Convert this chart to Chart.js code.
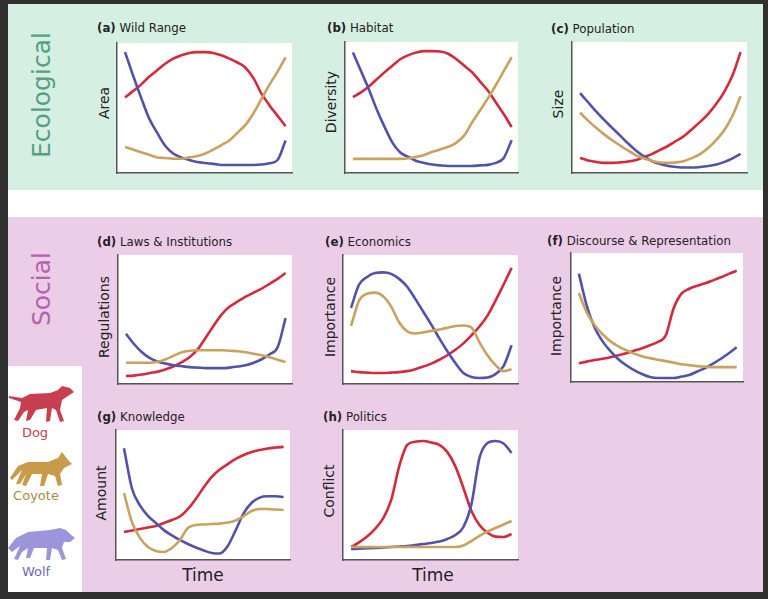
<!DOCTYPE html>
<html>
<head>
<meta charset="utf-8">
<script src="https://cdn.jsdelivr.net/npm/chart.js@4.4.1/dist/chart.umd.min.js"></script>
<style>
  html, body { margin:0; padding:0; }
  body { width:768px; height:599px; background:#303030; position:relative; overflow:hidden; font-family:"DejaVu Sans", Verdana, sans-serif; }
  .band { position:absolute; }
  .txt { position:absolute; white-space:nowrap; color:#222; }
  .ttl { font-size:11.8px; transform:translateY(-50%); }
  .ttl b { font-weight:bold; }
  .ylab { font-size:14px; transform:translate(-50%,-50%) rotate(-90deg); }
  .xlab { font-size:17px; transform:translate(-50%,-50%); }
  .sect { font-size:25px; font-weight:normal; transform:translate(-50%,-50%) rotate(-90deg); }
  .leg { font-size:13px; transform:translate(-50%,-50%); }
  canvas { position:absolute; }
</style>
</head>
<body>
<div class="band" style="left:8px;top:4px;width:755px;height:186px;background:#d6efe3;"></div>
<div class="band" style="left:8px;top:190px;width:755px;height:27px;background:#ffffff;"></div>
<div class="band" style="left:8px;top:217px;width:755px;height:375px;background:#eccde8;"></div>
<div class="band" style="left:8px;top:366px;width:74px;height:226px;background:#ffffff;"></div>

<div class="txt sect" style="left:41px;top:95px;color:#55a083;">Ecological</div>
<div class="txt sect" style="left:41px;top:289px;color:#b463ad;">Social</div>

<svg style="position:absolute;left:0;top:0;" width="768" height="599">
  <polygon fill="#c8404f" points="9,396 22,398 30,394 50,393 58,390 62,386 70,388 74,392 68,396 62,400 60,410 64,421 60,422 56,410 52,408 50,421 46,422 47,408 36,410 30,420 26,421 28,410 24,412 18,421 14,420 20,408 21,402 9,398"/>
  <polygon fill="#c99a4a" points="10,478 18,466 28,462 48,462 58,458 62,452 65,456 68,460 72,464 64,468 60,474 62,485 58,486 55,476 48,474 44,486 40,486 42,474 32,474 26,486 22,485 26,474 20,484 16,484 22,470 12,480"/>
  <polygon fill="#9b96dc" points="8,548 16,538 28,532 50,530 60,528 66,530 70,534 75,538 70,542 64,542 62,548 66,559 62,560 58,550 52,548 50,560 46,560 47,548 34,548 30,558 26,558 28,548 22,552 18,560 14,559 20,546 12,552"/>
</svg>
<div class="txt leg" style="left:35px;top:432px;color:#c8404f;">Dog</div>
<div class="txt leg" style="left:36px;top:495px;color:#a88c4c;">Coyote</div>
<div class="txt leg" style="left:36px;top:571px;color:#6b6bb5;">Wolf</div>

<script>
// ---------- DATA (normalized: time 0-100, level 0-100) ----------
const timeGrid = [0,5,10,15,20,25,30,35,40,45,50,55,60,65,70,75,80,85,90,95,100];

const wildRangeDog    = [58,63,68,74,79,84,88,90.5,92.3,93,93,92.3,90.5,88,85,81,73,61,52,44,36];
const wildRangeCoyote = [20,18,16,14,12,11.5,11,11,12,13,15,18,21.5,25,31,37,46,57,68,78,89];
const wildRangeWolf   = [93,75,58,42,31,21,15,12,10,8.5,7.7,7,6.2,6.2,6.2,6.2,6.2,6.5,7.5,10,25];

const habitatDog    = [58,61.5,66,71.5,77,82,87,90,92,93,93,92.7,91,87,82,77,70,63,54,45,35];
const habitatCoyote = [10.8,10.8,10.8,10.8,10.8,10.8,10.8,11.2,12.3,13.8,16.2,18,20,23,28.5,38.5,47.7,57,67,77.7,88.5];
const habitatWolf   = [92,78,64,48.5,35,23,15.4,12.3,9.2,7.7,6.5,5.8,5.4,5.4,5.4,5.4,5.8,6.2,7.7,11.5,25];

const populationDog    = [11.5,9.6,8.5,7.7,7.7,8.1,8.8,10,12.3,14.6,17.7,20.8,24.6,28.5,33.8,39.2,45.4,53,62.3,74.6,92.3];
const populationCoyote = [46,40,34.5,29.5,25,21,17,13.5,11,9.2,8,7.7,8.1,9.2,11.5,14.6,19.2,25.4,33,43.8,58.5];
const populationWolf   = [61,54,47,40.5,34.5,28.5,22.5,17,12.5,9,6.8,5.4,4.6,4.2,4.2,4.6,5.4,6.5,8.5,11.2,14.6];

const lawsDog    = [6.2,6.5,7.3,8.5,9.6,11.5,13.8,17,21,27,36,45.4,54,60,64,67.7,70.8,74,77.7,81.5,86];
const lawsCoyote = [16.5,16.5,16.5,16.5,17.3,19.2,22,24.6,25.8,26.2,26.2,26.2,26.2,25.8,25.4,24.6,23.5,22.3,20.8,18.8,17];
const lawsWolf   = [39,31,24.6,20,17.3,15.8,14.6,13.8,13.1,12.7,12.3,12.3,12.3,12.7,13.5,14.6,16.5,19.2,23,28.5,51];

const economicsDog    = [10,9.2,8.8,8.5,8.5,8.8,9.2,10,11.5,13.5,15.8,18.8,22.3,26.5,31.5,37.7,44.6,53,64.6,77,90];
const economicsCoyote = [45,64.6,70,70.8,68,60,47.7,40.8,39.2,40,41.2,42.3,43.5,45,45.4,43.8,32.3,22.3,14.6,10,11.5];
const economicsWolf   = [59,77,83,86,86.5,85.4,81.5,75.4,66,56,46,35.4,25.4,16.2,8.5,5.4,4.6,5,7.7,13.8,30];

const discourseDog    = [14.6,15.8,17,18,19.2,20.8,22.3,24.2,26.2,28.5,31,36,57,68.5,72.3,74.6,76.5,78.8,81.2,83.8,86.2];
const discourseCoyote = [69,54,44,37,31.5,27.7,24.6,22,20,18.5,17.3,16.2,15,13.8,13.1,12.3,11.9,11.5,11.5,11.5,11.5];
const discourseWolf   = [84,59,42,31.5,24,17.7,13,9.2,6.2,3.8,3.1,3.1,3.1,4.2,5.4,8.1,10.8,14.2,18,22.3,27];

const knowledgeDog    = [21.5,22.7,23.8,25,26.2,28.5,30.8,33.5,39.2,47,56,64,69.6,73.8,77.7,80.8,83,84.6,85.8,86.5,87];
const knowledgeCoyote = [51.5,29,17,10,7,6.2,9.2,15.4,24.6,27,27.3,27.7,28,28.8,30.4,33.8,37.7,39.2,39.2,38.8,38.5];
const knowledgeWolf   = [86,55,42,34,28.5,23,19,15.4,12.3,9.6,7.3,5.4,5,10.8,23,36,44,48,49,49,48.5];

const politicsDog    = [10,13.5,18,24,32,46,72,88.5,91,91.5,90.4,88.5,83,72,55.4,37.7,27,21,18,17.7,20];
const politicsCoyote = [10,10,10,10,10,10,10,10,10,10,10,10,10,10,11.2,14.6,18.5,22,24.6,27.3,30];
const politicsWolf   = [8.5,8.7,9,9.2,9.6,10,10.4,10.8,11.5,12.3,13.1,14.2,16.2,19.2,25.4,43,78.5,90,91.5,89.6,82.3];

const panelTags   = ["(a)","(b)","(c)","(d)","(e)","(f)","(g)","(h)"];
const panelNames  = ["Wild Range","Habitat","Population","Laws & Institutions","Economics","Discourse & Representation","Knowledge","Politics"];
const yAxisTitles = ["Area","Diversity","Size","Regulations","Importance","Importance","Amount","Conflict"];
const xAxisTitle  = "Time";

const dogSeries    = [wildRangeDog, habitatDog, populationDog, lawsDog, economicsDog, discourseDog, knowledgeDog, politicsDog];
const coyoteSeries = [wildRangeCoyote, habitatCoyote, populationCoyote, lawsCoyote, economicsCoyote, discourseCoyote, knowledgeCoyote, politicsCoyote];
const wolfSeries   = [wildRangeWolf, habitatWolf, populationWolf, lawsWolf, economicsWolf, discourseWolf, knowledgeWolf, politicsWolf];

// ---------- LAYOUT (pixels) ----------
const layout = [
  {box:[117,43,292,173], t:[97,28],  y:[104,103], time:null},
  {box:[345,42,518,173], t:[327,28], y:[331,102], time:null},
  {box:[572,42,747,173], t:[551,29], y:[558,104], time:null},
  {box:[118,255,292,384], t:[97,242], y:[104,317], time:null},
  {box:[343,255,518,384], t:[325,242], y:[330,317], time:null},
  {box:[571,253,743,382], t:[547,241], y:[556,316], time:null},
  {box:[116,430,290,560], t:[97,417], y:[101,493], time:[203,575]},
  {box:[343,430,518,560], t:[323,417], y:[329,491], time:[433,575]}
];

const COLORS = { dog:'#d42a3b', coyote:'#c9a25f', wolf:'#5253a8' };
const PAD = 3;

const whiteArea = {
  id:'whiteArea',
  beforeDraw(chart){
    const {ctx, chartArea:a} = chart;
    ctx.save(); ctx.fillStyle='#ffffff';
    ctx.fillRect(a.left, a.top, a.right-a.left, a.bottom-a.top);
    ctx.restore();
  }
};

function addText(cls, x, y, html){
  const d = document.createElement('div');
  d.className = 'txt ' + cls;
  d.style.left = x + 'px'; d.style.top = y + 'px';
  d.innerHTML = html;
  document.body.appendChild(d);
}

layout.forEach((L, i) => {
  const [l,t,r,b] = L.box;
  const cv = document.createElement('canvas');
  const w = r - l + 2*PAD, h = b - t + 2*PAD;
  cv.width = w; cv.height = h;
  cv.style.left = (l - PAD) + 'px'; cv.style.top = (t - PAD) + 'px';
  cv.style.width = w + 'px'; cv.style.height = h + 'px';
  document.body.appendChild(cv);

  const mk = (vals, col) => ({
    data: timeGrid.map((x, k) => ({x, y: vals[k]})),
    borderColor: col, borderWidth: 2.6, pointRadius: 0, fill:false,
    cubicInterpolationMode: 'monotone'
  });

  new Chart(cv, {
    type: 'line',
    data: { datasets: [ mk(coyoteSeries[i], COLORS.coyote), mk(wolfSeries[i], COLORS.wolf), mk(dogSeries[i], COLORS.dog) ] },
    options: {
      responsive: false, animation: false, devicePixelRatio: 1,
      layout: { padding: PAD },
      plugins: { legend:{display:false}, tooltip:{enabled:false}, title:{display:false} },
      scales: {
        x: { type:'linear', min:-5, max:104, grid:{display:false, drawTicks:false}, ticks:{display:false},
             border:{display:true, color:'#555555', width:1.5} },
        y: { type:'linear', min:0, max:100, grid:{display:false, drawTicks:false}, ticks:{display:false},
             border:{display:true, color:'#555555', width:1.5} }
      }
    },
    plugins: [whiteArea]
  });

  addText('ttl', L.t[0], L.t[1], '<b>' + panelTags[i] + '</b> ' + panelNames[i].replace('&','&amp;'));
  addText('ylab', L.y[0], L.y[1], yAxisTitles[i]);
  if (L.time) addText('xlab', L.time[0], L.time[1], xAxisTitle);
});
</script>
</body>
</html>
